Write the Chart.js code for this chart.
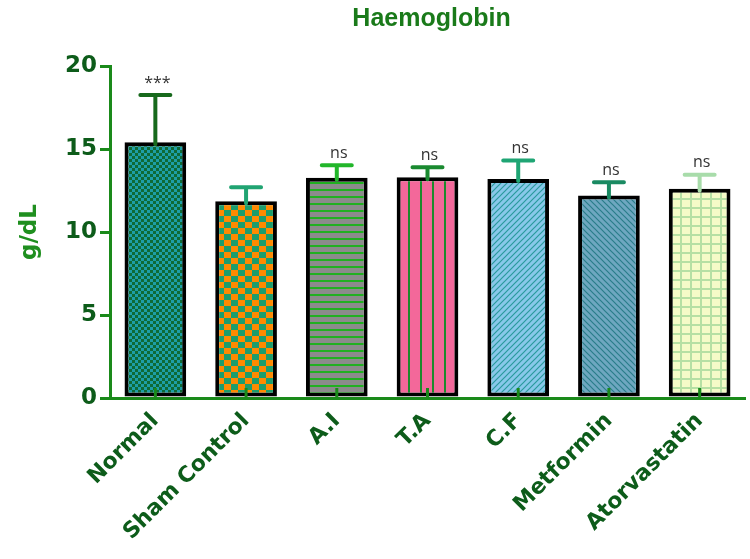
<!DOCTYPE html>
<html>
<head>
<meta charset="utf-8">
<script src="https://cdn.jsdelivr.net/npm/chart.js@4"></script>
<style>
  body { margin: 0; background: #fff; }
  #wrap { width: 750px; height: 559px; }
</style>
</head>
<body>
<div id="wrap"><canvas id="grafica"></canvas></div>
<script>
// datos
const grupos = ["Normal", "Sham Control", "A.I", "T.A", "C.F", "Metformin", "Atorvastatin"];
const medias = [15.4, 11.85, 13.27, 13.3, 13.2, 12.2, 12.6];
const errores = [2.85, 0.85, 0.75, 0.6, 1.1, 0.8, 0.85];
const marcas = ["***", "", "ns", "ns", "ns", "ns", "ns"];
const ticksY = [0, 5, 10, 15, 20];

const colorErr = ["#17691c", "#20a472", "#22b62a", "#1a8a30", "#1fa574", "#1a8a62", "#a8dcaa"];

function tile(w, h, dibujar) {
    const c = document.createElement("canvas");
    c.width = w; c.height = h;
    const g = c.getContext("2d");
    dibujar(g, w, h);
    return document.createElement("canvas").getContext("2d").createPattern(c, "repeat");
}

const patrones = [
    tile(6, 6, (g) => { // cuadritos verde/teal
        g.fillStyle = "#1e9ea6"; g.fillRect(0, 0, 6, 6);
        g.fillStyle = "#0e6a36"; g.fillRect(0, 0, 3, 3); g.fillRect(3, 3, 3, 3);
    }),
    tile(14, 12, (g) => { // damero naranja/verde
        g.fillStyle = "#ff8a00"; g.fillRect(0, 0, 14, 12);
        g.fillStyle = "#1c9d6c"; g.fillRect(7, 0, 7, 6); g.fillRect(0, 6, 7, 6);
    }),
    tile(8, 7, (g) => { // gris con rayas horizontales
        g.fillStyle = "#8b8b8b"; g.fillRect(0, 0, 8, 7);
        g.fillStyle = "#20b020"; g.fillRect(0, 0, 8, 2);
    }),
    tile(12, 8, (g) => { // rosa con rayas verticales
        g.fillStyle = "#f3689a"; g.fillRect(0, 0, 12, 8);
        g.fillStyle = "#1d8a2c"; g.fillRect(0, 0, 2, 8);
    }),
    tile(6, 6, (g) => { // celeste con diagonales /
        g.fillStyle = "#88c8ea"; g.fillRect(0, 0, 6, 6);
        g.strokeStyle = "#2a9a9c"; g.lineWidth = 1.2;
        g.beginPath(); g.moveTo(0, 6); g.lineTo(6, 0);
        g.moveTo(-1, 1); g.lineTo(1, -1); g.moveTo(5, 7); g.lineTo(7, 5); g.stroke();
    }),
    tile(6, 6, (g) => { // azul con diagonales \
        g.fillStyle = "#6ea7c0"; g.fillRect(0, 0, 6, 6);
        g.strokeStyle = "#2a7d8a"; g.lineWidth = 1.2;
        g.beginPath(); g.moveTo(0, 0); g.lineTo(6, 6);
        g.moveTo(5, -1); g.lineTo(7, 1); g.moveTo(-1, 5); g.lineTo(1, 7); g.stroke();
    }),
    tile(10, 9, (g) => { // amarillo con grilla
        g.fillStyle = "#f5fbc8"; g.fillRect(0, 0, 10, 9);
        g.fillStyle = "#b6e0a4"; g.fillRect(0, 0, 2, 9); g.fillRect(0, 0, 10, 2);
    })
];

// barras de error, ticks internos, marcas y titulo
const extras = {
    id: "extras",
    afterDatasetsDraw(chart) {
        const ctx = chart.ctx;
        const meta = chart.getDatasetMeta(0);
        const y = chart.scales.y;
        ctx.save();
        meta.data.forEach((bar, i) => {
            const top = y.getPixelForValue(medias[i] + errores[i]);
            ctx.strokeStyle = colorErr[i];
            ctx.lineCap = "round";
            ctx.lineWidth = 4;
            ctx.beginPath();
            ctx.moveTo(bar.x, bar.y + 2);
            ctx.lineTo(bar.x, top);
            ctx.moveTo(bar.x - 15, top);
            ctx.lineTo(bar.x + 15, top);
            ctx.stroke();
            // tick hacia adentro
            ctx.lineCap = "butt";
            ctx.lineWidth = 3;
            ctx.strokeStyle = "#1a8a1a";
            ctx.beginPath();
            ctx.moveTo(bar.x, chart.chartArea.bottom);
            ctx.lineTo(bar.x, chart.chartArea.bottom - 10);
            ctx.stroke();
            if (marcas[i]) {
                ctx.fillStyle = "#333";
                ctx.font = "16px 'Open Sans'";
                ctx.textAlign = "center";
                ctx.textBaseline = "bottom";
                ctx.fillText(marcas[i], bar.x + 2, top - 4);
            }
        });
        ctx.fillStyle = "#1a7a1a";
        ctx.font = "bold 25px 'Liberation Sans'";
        ctx.textAlign = "center";
        ctx.textBaseline = "middle";
        ctx.fillText("Haemoglobin", (chart.chartArea.left + chart.chartArea.right) / 2 + 4, 19);
        ctx.restore();
    }
};

new Chart(document.getElementById("grafica"), {
    type: "bar",
    data: {
        labels: grupos,
        datasets: [{
            data: medias,
            backgroundColor: patrones,
            borderColor: "#000",
            borderWidth: 4,
            borderSkipped: false,
            categoryPercentage: 1,
            barPercentage: 0.68
        }]
    },
    options: {
        responsive: true,
        maintainAspectRatio: false,
        animation: false,
        layout: { padding: { top: 66, right: 5, left: 0, bottom: 0 } },
        plugins: { legend: { display: false }, tooltip: { enabled: false } },
        scales: {
            x: {
                grid: { display: false },
                border: { color: "#1a8a1a", width: 3 },
                ticks: {
                    color: "#0d5c1a",
                    font: { family: "DejaVu Sans", size: 22, weight: "bold" },
                    minRotation: 45, maxRotation: 45, padding: 2
                },
                afterFit: (s) => { s.height = 161; }
            },
            y: {
                min: 0, max: 20,
                afterBuildTicks: (s) => { s.ticks = ticksY.map(v => ({ value: v })); },
                grid: { drawOnChartArea: false, color: "#1a8a1a", lineWidth: 3, tickLength: 10 },
                border: { color: "#1a8a1a", width: 3 },
                ticks: {
                    color: "#0d5c1a",
                    font: { family: "DejaVu Sans", size: 23, weight: "bold" },
                    padding: 3
                },
                title: {
                    display: true, text: "g/dL", color: "#1f8f1f",
                    font: { family: "DejaVu Sans", size: 23, weight: "bold" },
                    padding: { top: 16, bottom: 0 }
                },
                afterFit: (s) => { s.width = 110; }
            }
        }
    },
    plugins: [extras]
});
</script>
</body>
</html>
